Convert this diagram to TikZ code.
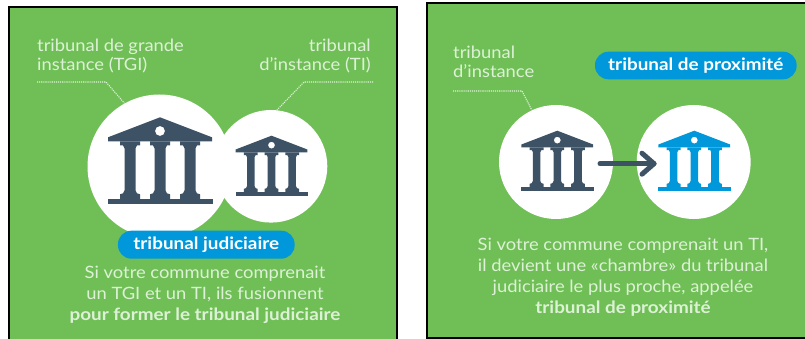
\documentclass[tikz,border=0pt]{standalone}
\usepackage{fontspec}
\usetikzlibrary{calc}
\setmainfont{Lato}[FakeStretch=1.08,BoldFeatures={FakeStretch=1.11}]
\definecolor{gr}{HTML}{70BF56}
\definecolor{dk}{HTML}{3E5266}
\definecolor{bl}{HTML}{0098DA}
\definecolor{pale}{HTML}{DDF1D6}
\tikzset{
 panel/.style={fill=gr,draw=black,line width=1.2pt},
 disc/.style={circle,fill=white,inner sep=0pt,minimum size=#1},
 pill/.style={rounded corners=13.5pt,fill=bl,text=white,inner sep=0pt,font=\fontsize{17}{17}\selectfont\bfseries},
 lab/.style={text=pale,inner sep=0pt,align=#1,font=\fontsize{17}{19.5}\selectfont},
 para/.style={text=pale,inner sep=0pt,align=center,font=\fontsize{17}{21}\selectfont},
 dots/.style={draw=pale,line width=1.1pt,dash pattern=on 1.1pt off 1pt},
 pics/building/.style args={#1/#2}{code={
  \begin{scope}[scale=#2,fill=#1,even odd rule]
  \fill (0,0) -- (52,20) -- (52,24) -- (-52,24) -- (-52,20) -- cycle (5,13.7) arc[start angle=0,end angle=360,radius=5];
  \fill (-52,82) rectangle (53,87);
  \foreach \cx in {-30,0,30}{
   \begin{scope}[shift={(\cx,0)}]
   \fill (-10,24) -- (10,24) -- (10,28) -- (7,28) -- (5.5,31) -- (5.5,73) -- (7,76) -- (10,77) -- (10,82) -- (-10,82) -- (-10,77) -- (-7,76) -- (-5.5,73) -- (-5.5,31) -- (-7,28) -- (-10,28) -- cycle;
   \end{scope}
  }
  \end{scope}
 }}
}
\begin{document}
\begin{tikzpicture}[x=1pt,y=-1pt]
\useasboundingbox (0,0) rectangle (805,339);
\fill[white] (0,0) rectangle (805,339);
% left panel
\path[panel] (9,7) rectangle (397,345);
\node[disc=144pt] (big) at (159.5,166.5) {};
\node[disc=112.6pt] (small) at (271,166.3) {};
\pic at (160,117.3) {building={dk/1}};
\pic at (271.5,135.7) {building={dk/0.69}};
\node[pill,minimum width=176.7pt,minimum height=28pt] (tj) at (206.3,244.7) {tribunal judiciaire};
\node[lab=left,anchor=north west] (tgi) at (37,38.5) {tribunal de grande\\instance (TGI)};
\node[lab=right,anchor=north east] (ti) at (371,38.5) {tribunal\\d’instance (TI)};
\node[para,anchor=north] (p1) at (205,265.5) {Si votre commune comprenait\\un TGI et un TI, ils fusionnent\\\textbf{pour former le tribunal judiciaire}};
\coordinate (a1) at (37,82); \coordinate (a2) at (106,82);
\draw[dots] (a1) -- (a2) -- (big.119);
\coordinate (b1) at (373,82); \coordinate (b2) at (304,82);
\draw[dots] (b1) -- (b2) -- (small.84);
% right panel
\path[panel] (427,3) rectangle (815,338);
\node[disc=114pt] (c1) at (556,162) {};
\node[disc=114pt] (c2) at (693.7,162) {};
\pic at (557.3,130.7) {building={dk/0.69}};
\pic at (694.3,130.7) {building={bl/0.69}};
\coordinate (ar1) at (600,163.7); \coordinate (ar2) at (654,163.7);
\draw[dk,line width=5pt,line cap=round,line join=round] (ar1) -- (ar2);
\draw[dk,line width=5pt,line cap=round,line join=round] ($(ar2)+(-12,-10.5)$) -- (ar2) -- ($(ar2)+(-12,10.5)$);
\node[pill,minimum width=201.7pt,minimum height=27.6pt] (tp) at (695.8,65.5) {tribunal de proximité};
\node[lab=left,anchor=north west] (ti2) at (453,45.5) {tribunal\\d’instance};
\node[para,anchor=north] (p2) at (623,237.5) {Si votre commune comprenait un TI,\\il devient une «chambre» du tribunal\\judiciaire le plus proche, appelée\\\textbf{tribunal de proximité}};
\coordinate (d1) at (453,91); \coordinate (d2) at (522,91);
\draw[dots] (d1) -- (d2) -- (c1.115);
\end{tikzpicture}
\end{document}
